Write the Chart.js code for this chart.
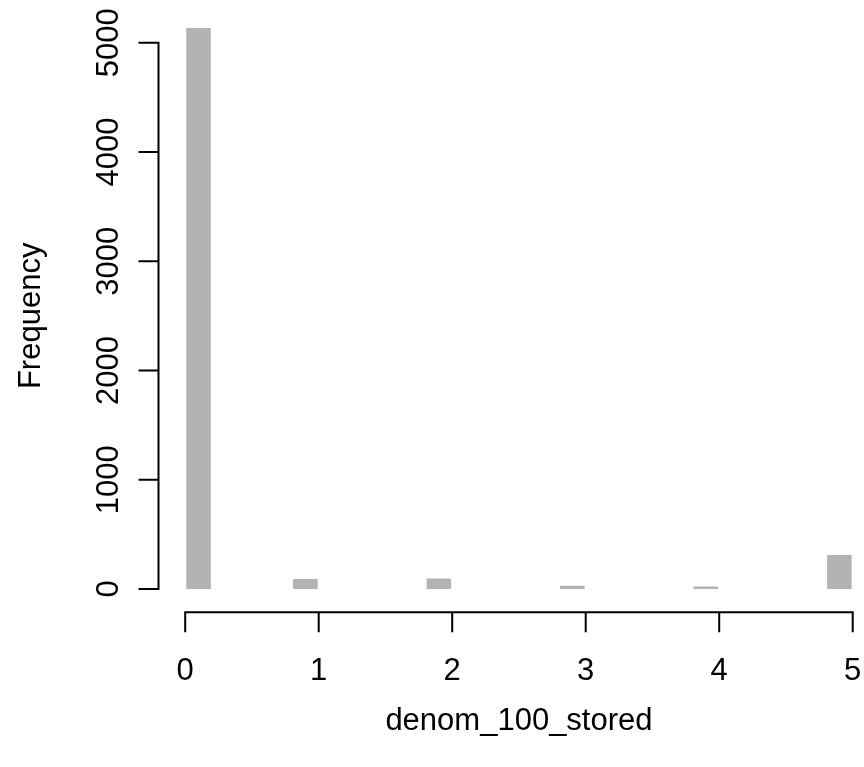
<!DOCTYPE html>
<html>
<head>
<meta charset="utf-8">
<script src="https://cdn.jsdelivr.net/npm/chart.js@4"></script>
<style>
  html, body { margin: 0; padding: 0; background: #fff; }
</style>
</head>
<body>
<canvas id="chart" width="864" height="767"></canvas>
<script>
// histogram of denom_100_stored
const values = [0, 1, 2, 3, 4, 5];
const counts = [5134, 92, 96, 30, 22, 311];
const binWidth = 0.2;
const xTicks = [0, 1, 2, 3, 4, 5];
const yTicks = [0, 1000, 2000, 3000, 4000, 5000];
const xTitle = 'denom_100_stored';
const yTitle = 'Frequency';

// one bin per 0.2 step, right-closed like R's hist()
const nBins = Math.round(xTicks[xTicks.length - 1] / binWidth);
const bins = [];
for (let i = 0; i < nBins; i++) bins.push({ x: (i + 0.5) * binWidth, y: 0 });
values.forEach((v, k) => {
  const i = v === 0 ? 0 : Math.ceil(v / binWidth - 1e-9) - 1;
  bins[i].y += counts[k];
});

const FONT = '31px "Liberation Sans", Arial, Helvetica, sans-serif';

// base-R style axes: lines only span the tick range
const rAxes = {
  id: 'rAxes',
  afterDraw(chart) {
    const { ctx, chartArea } = chart;
    const x = chart.scales.x, y = chart.scales.y;
    ctx.save();
    ctx.strokeStyle = '#000';
    ctx.fillStyle = '#000';
    ctx.lineWidth = 2;
    ctx.font = FONT;

    // x axis
    const axY = chartArea.bottom;
    ctx.beginPath();
    ctx.moveTo(x.getPixelForValue(xTicks[0]) - 1, axY);
    ctx.lineTo(x.getPixelForValue(xTicks[xTicks.length - 1]) + 1, axY);
    xTicks.forEach(t => {
      const px = x.getPixelForValue(t);
      ctx.moveTo(px, axY);
      ctx.lineTo(px, axY + 20);
    });
    ctx.stroke();
    ctx.textAlign = 'center';
    ctx.textBaseline = 'middle';
    xTicks.forEach(t => ctx.fillText(String(t), x.getPixelForValue(t), 671));
    ctx.fillText(xTitle, (x.getPixelForValue(0) + x.getPixelForValue(5)) / 2, 721);

    // y axis
    const axX = chartArea.left;
    ctx.beginPath();
    ctx.moveTo(axX, y.getPixelForValue(yTicks[0]) + 1);
    ctx.lineTo(axX, y.getPixelForValue(yTicks[yTicks.length - 1]) - 1);
    yTicks.forEach(t => {
      const py = y.getPixelForValue(t);
      ctx.moveTo(axX, py);
      ctx.lineTo(axX - 20, py);
    });
    ctx.stroke();
    yTicks.forEach(t => {
      ctx.save();
      ctx.translate(109, y.getPixelForValue(t));
      ctx.rotate(-Math.PI / 2);
      ctx.fillText(String(t), 0, 0);
      ctx.restore();
    });
    ctx.save();
    ctx.translate(31, (y.getPixelForValue(0) + y.getPixelForValue(5000)) / 2);
    ctx.rotate(-Math.PI / 2);
    ctx.fillText(yTitle, 0, 0);
    ctx.restore();

    ctx.restore();
  }
};

new Chart(document.getElementById('chart'), {
  type: 'bar',
  data: {
    datasets: [{
      data: bins,
      backgroundColor: '#b3b3b3',
      borderWidth: 0,
      barPercentage: 0.92,
      categoryPercentage: 1
    }]
  },
  options: {
    responsive: false,
    animation: false,
    devicePixelRatio: 1,
    layout: { padding: { left: 158.5, right: 0, top: 0, bottom: 767 - 612.3 } },
    plugins: { legend: { display: false }, tooltip: { enabled: false } },
    scales: {
      x: { type: 'linear', min: -0.2, max: 5.0846, offset: false, display: false },
      y: { type: 'linear', min: -213.3, max: 5390.8, display: false }
    }
  },
  plugins: [rAxes]
});
</script>
</body>
</html>
